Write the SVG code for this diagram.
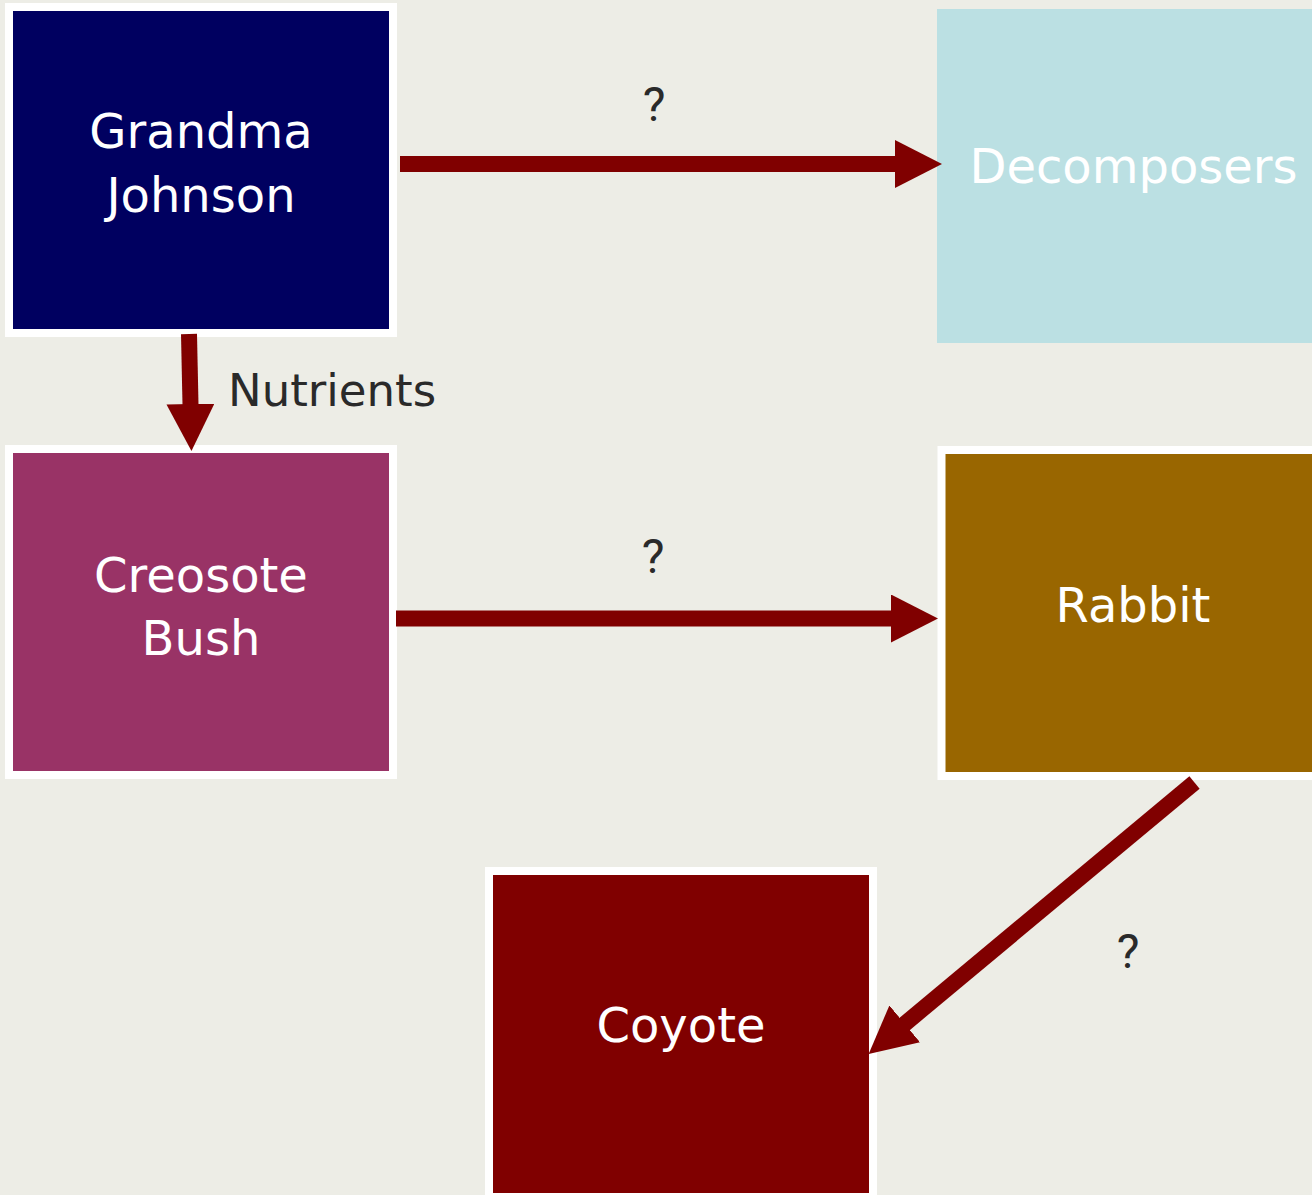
<svg xmlns="http://www.w3.org/2000/svg" width="1312" height="1195" viewBox="0 0 1312 1195">
  <style>
    .box { stroke: #ffffff; stroke-width: 8; }
    .lbl { font-family: "DejaVu Sans", Verdana, sans-serif; font-size: 48px; fill: #ffffff; text-anchor: middle; }
    .edge { stroke: #800000; stroke-width: 16; fill: none; marker-end: url(#ah); }
    .elbl { font-family: "DejaVu Sans", sans-serif; font-size: 45px; fill: #2a2a2a; }
    .q { font-family: Roboto, "DejaVu Sans", sans-serif; font-size: 48px; fill: #2a2a2a; text-anchor: middle; }
  </style>
  <defs>
    <marker id="ah" markerUnits="userSpaceOnUse" markerWidth="48" markerHeight="48" viewBox="0 0 48 48" refX="1" refY="24" orient="auto">
      <path d="M0,0 L47,24 L0,48 z" fill="#800000"/>
    </marker>
  </defs>
  <rect x="0" y="0" width="1312" height="1195" fill="#EDEDE6"/>

  <g id="grandma">
    <rect class="box" x="9" y="7" width="384" height="326" fill="#000060"/>
    <text class="lbl" x="201" y="148">Grandma</text>
    <text class="lbl" x="201" y="212">Johnson</text>
  </g>
  <g id="decomposers">
    <rect x="937" y="9" width="400" height="334" fill="#BBE0E3"/>
    <text class="lbl" x="1133.5" y="183">Decomposers</text>
  </g>
  <g id="creosote">
    <rect class="box" x="9" y="449" width="384" height="326" fill="#993366"/>
    <text class="lbl" x="201" y="592">Creosote</text>
    <text class="lbl" x="201" y="655">Bush</text>
  </g>
  <g id="rabbit">
    <rect class="box" x="941.5" y="450" width="400" height="326" fill="#996600"/>
    <text class="lbl" x="1133" y="622">Rabbit</text>
  </g>
  <g id="coyote">
    <rect class="box" x="489" y="871" width="384" height="326" fill="#800000"/>
    <text class="lbl" x="681" y="1042">Coyote</text>
  </g>

  <g id="connectors">
    <line class="edge" x1="400" y1="164" x2="896" y2="164"/>
    <line class="edge" x1="396" y1="618.5" x2="892" y2="618.5"/>
    <line class="edge" x1="189" y1="334" x2="190.5" y2="405"/>
    <line class="edge" x1="1194.5" y1="782.5" x2="904" y2="1024.5"/>
    <text class="elbl" x="228" y="406">Nutrients</text>
    <text class="q" x="654" y="121">?</text>
    <text class="q" x="653" y="573">?</text>
    <text class="q" x="1128" y="968">?</text>
  </g>
</svg>
